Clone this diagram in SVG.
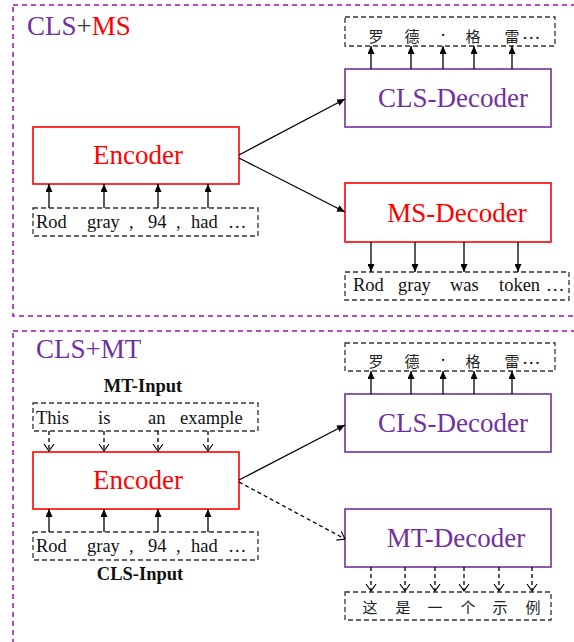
<svg xmlns="http://www.w3.org/2000/svg" width="574" height="642" viewBox="0 0 574 642">
<defs>
<marker id="fa" viewBox="0 0 8 7" refX="8" refY="3.5" markerWidth="8" markerHeight="7" markerUnits="userSpaceOnUse" orient="auto">
<path d="M0,0 L8,3.5 L0,7 z" fill="#000"/>
</marker>
<marker id="oa" viewBox="0 0 8 12" refX="7.5" refY="6" markerWidth="8" markerHeight="12" markerUnits="userSpaceOnUse" orient="auto">
<path d="M0.5,1 L7.5,6 L0.5,11" fill="none" stroke="#000" stroke-width="1.1"/>
</marker>
</defs>
<style>
.panel{fill:none;stroke:#A010B0;stroke-width:1.5;stroke-dasharray:5,4}
.tok{fill:none;stroke:#333;stroke-width:1.3;stroke-dasharray:5,3}
.enc{fill:#fff;stroke:#FF0000;stroke-width:1.6}
.dec{fill:#fff;stroke:#7030A0;stroke-width:1.6}
.msd{fill:#fff;stroke:#FF0000;stroke-width:1.6}
.t{font-family:"Liberation Serif","Times New Roman",serif}
.big{font-size:27px}
.w{font-size:18.5px;fill:#111}
.b{font-size:18.5px;font-weight:bold;fill:#111}
.zh{font-family:"Noto Sans CJK SC",sans-serif;font-size:15px;fill:#222}
.red{fill:#FF0000}
.pur{fill:#7030A0}
.c{stroke:#000;stroke-width:1.3;fill:none}
.cd{stroke:#000;stroke-width:1.3;fill:none;stroke-dasharray:4,3}
</style>

<g id="panel-ms">
<rect class="panel" x="13" y="5" width="570" height="311"/>
<text class="t big" x="27" y="35"><tspan class="pur">CLS</tspan><tspan fill="#333">+</tspan><tspan class="red">MS</tspan></text>
</g>
<g id="panel-mt">
<rect class="panel" x="13" y="331" width="570" height="320"/>
<text class="t big pur" x="36" y="358">CLS+MT</text>
</g>

<!-- Top panel nodes -->
<g id="ms-input">
<rect class="tok" x="33" y="208" width="225" height="28"/>
<text class="t w" y="228"><tspan x="36">Rod</tspan><tspan x="87">gray</tspan><tspan x="129">,</tspan><tspan x="148">94</tspan><tspan x="176">,</tspan><tspan x="191">had</tspan><tspan x="228">…</tspan></text>
</g>
<g id="ms-encoder">
<rect class="enc" x="33" y="127" width="206" height="57"/>
<text class="t big red" x="138" y="164" text-anchor="middle">Encoder</text>
</g>
<g id="ms-cls-decoder">
<rect class="dec" x="345" y="69" width="206" height="58"/>
<text class="t big pur" x="453" y="107" text-anchor="middle">CLS-Decoder</text>
</g>
<g id="ms-cls-output">
<rect class="tok" x="345" y="17" width="210" height="29"/>
<text class="zh" y="42" text-anchor="middle"><tspan x="376">罗</tspan><tspan x="412">德</tspan><tspan x="473">格</tspan><tspan x="512">雷</tspan></text>
<text class="t w" x="443" y="41" text-anchor="middle">·</text>
<text class="t w" x="522" y="39">…</text>
</g>
<g id="ms-decoder">
<rect class="msd" x="345" y="183" width="206" height="59"/>
<text class="t big red" x="457" y="222" text-anchor="middle">MS-Decoder</text>
</g>
<g id="ms-output">
<rect class="tok" x="345" y="272" width="224" height="28"/>
<text class="t w" y="291"><tspan x="353">Rod</tspan><tspan x="398">gray</tspan><tspan x="450">was</tspan><tspan x="499">token</tspan><tspan x="546">…</tspan></text>
</g>

<!-- Bottom panel nodes -->
<g id="mt-input">
<text class="t b" x="143" y="392" text-anchor="middle">MT-Input</text>
<rect class="tok" x="33" y="403" width="225" height="28"/>
<text class="t w" y="424"><tspan x="36">This</tspan><tspan x="98">is</tspan><tspan x="148">an</tspan><tspan x="180">example</tspan></text>
</g>
<g id="mt-encoder">
<rect class="enc" x="33" y="452" width="206" height="57"/>
<text class="t big red" x="138" y="489" text-anchor="middle">Encoder</text>
</g>
<g id="cls-input">
<rect class="tok" x="33" y="532" width="225" height="28"/>
<text class="t w" y="552"><tspan x="36">Rod</tspan><tspan x="87">gray</tspan><tspan x="129">,</tspan><tspan x="148">94</tspan><tspan x="176">,</tspan><tspan x="191">had</tspan><tspan x="228">…</tspan></text>
<text class="t b" x="140" y="580" text-anchor="middle">CLS-Input</text>
</g>
<g id="mt-cls-decoder">
<rect class="dec" x="345" y="394" width="206" height="58"/>
<text class="t big pur" x="453" y="432" text-anchor="middle">CLS-Decoder</text>
</g>
<g id="mt-cls-output">
<rect class="tok" x="345" y="343" width="210" height="28"/>
<text class="zh" y="367" text-anchor="middle"><tspan x="376">罗</tspan><tspan x="412">德</tspan><tspan x="473">格</tspan><tspan x="512">雷</tspan></text>
<text class="t w" x="443" y="366" text-anchor="middle">·</text>
<text class="t w" x="522" y="364">…</text>
</g>
<g id="mt-decoder">
<rect class="dec" x="345" y="509" width="206" height="58"/>
<text class="t big pur" x="456" y="547" text-anchor="middle">MT-Decoder</text>
</g>
<g id="mt-output">
<rect class="tok" x="345" y="592" width="206" height="28"/>
<text class="zh" y="613" text-anchor="middle"><tspan x="370">这</tspan><tspan x="403">是</tspan><tspan x="435">一</tspan><tspan x="468">个</tspan><tspan x="500">示</tspan><tspan x="533">例</tspan></text>
</g>

<g id="connectors">
<line class="c" x1="49" y1="208" x2="49" y2="184" marker-end="url(#fa)"/>
<line class="c" x1="104" y1="208" x2="104" y2="184" marker-end="url(#fa)"/>
<line class="c" x1="158" y1="208" x2="158" y2="184" marker-end="url(#fa)"/>
<line class="c" x1="208" y1="208" x2="208" y2="184" marker-end="url(#fa)"/>
<line class="c" x1="239" y1="155" x2="345" y2="99" marker-end="url(#fa)"/>
<line class="c" x1="239" y1="158" x2="345" y2="212" marker-end="url(#fa)"/>
<line class="c" x1="371" y1="69" x2="371" y2="46" marker-end="url(#fa)"/>
<line class="c" x1="411" y1="69" x2="411" y2="46" marker-end="url(#fa)"/>
<line class="c" x1="443" y1="69" x2="443" y2="46" marker-end="url(#fa)"/>
<line class="c" x1="474" y1="69" x2="474" y2="46" marker-end="url(#fa)"/>
<line class="c" x1="512" y1="69" x2="512" y2="46" marker-end="url(#fa)"/>
<line class="c" x1="371" y1="242" x2="371" y2="272" marker-end="url(#fa)"/>
<line class="c" x1="415" y1="242" x2="415" y2="272" marker-end="url(#fa)"/>
<line class="c" x1="464" y1="242" x2="464" y2="272" marker-end="url(#fa)"/>
<line class="c" x1="518" y1="242" x2="518" y2="272" marker-end="url(#fa)"/>

<line class="cd" x1="49" y1="431" x2="49" y2="451" marker-end="url(#oa)"/>
<line class="cd" x1="104" y1="431" x2="104" y2="451" marker-end="url(#oa)"/>
<line class="cd" x1="158" y1="431" x2="158" y2="451" marker-end="url(#oa)"/>
<line class="cd" x1="208" y1="431" x2="208" y2="451" marker-end="url(#oa)"/>
<line class="c" x1="49" y1="532" x2="49" y2="509" marker-end="url(#fa)"/>
<line class="c" x1="104" y1="532" x2="104" y2="509" marker-end="url(#fa)"/>
<line class="c" x1="158" y1="532" x2="158" y2="509" marker-end="url(#fa)"/>
<line class="c" x1="208" y1="532" x2="208" y2="509" marker-end="url(#fa)"/>
<line class="c" x1="239" y1="480" x2="345" y2="425" marker-end="url(#fa)"/>
<line class="cd" x1="239" y1="482" x2="345" y2="539" marker-end="url(#oa)"/>
<line class="c" x1="371" y1="394" x2="371" y2="371" marker-end="url(#fa)"/>
<line class="c" x1="411" y1="394" x2="411" y2="371" marker-end="url(#fa)"/>
<line class="c" x1="443" y1="394" x2="443" y2="371" marker-end="url(#fa)"/>
<line class="c" x1="474" y1="394" x2="474" y2="371" marker-end="url(#fa)"/>
<line class="c" x1="512" y1="394" x2="512" y2="371" marker-end="url(#fa)"/>
<line class="cd" x1="371" y1="567" x2="371" y2="591" marker-end="url(#oa)"/>
<line class="cd" x1="405" y1="567" x2="405" y2="591" marker-end="url(#oa)"/>
<line class="cd" x1="435" y1="567" x2="435" y2="591" marker-end="url(#oa)"/>
<line class="cd" x1="464" y1="567" x2="464" y2="591" marker-end="url(#oa)"/>
<line class="cd" x1="499" y1="567" x2="499" y2="591" marker-end="url(#oa)"/>
<line class="cd" x1="532" y1="567" x2="532" y2="591" marker-end="url(#oa)"/>
</g>
</svg>
